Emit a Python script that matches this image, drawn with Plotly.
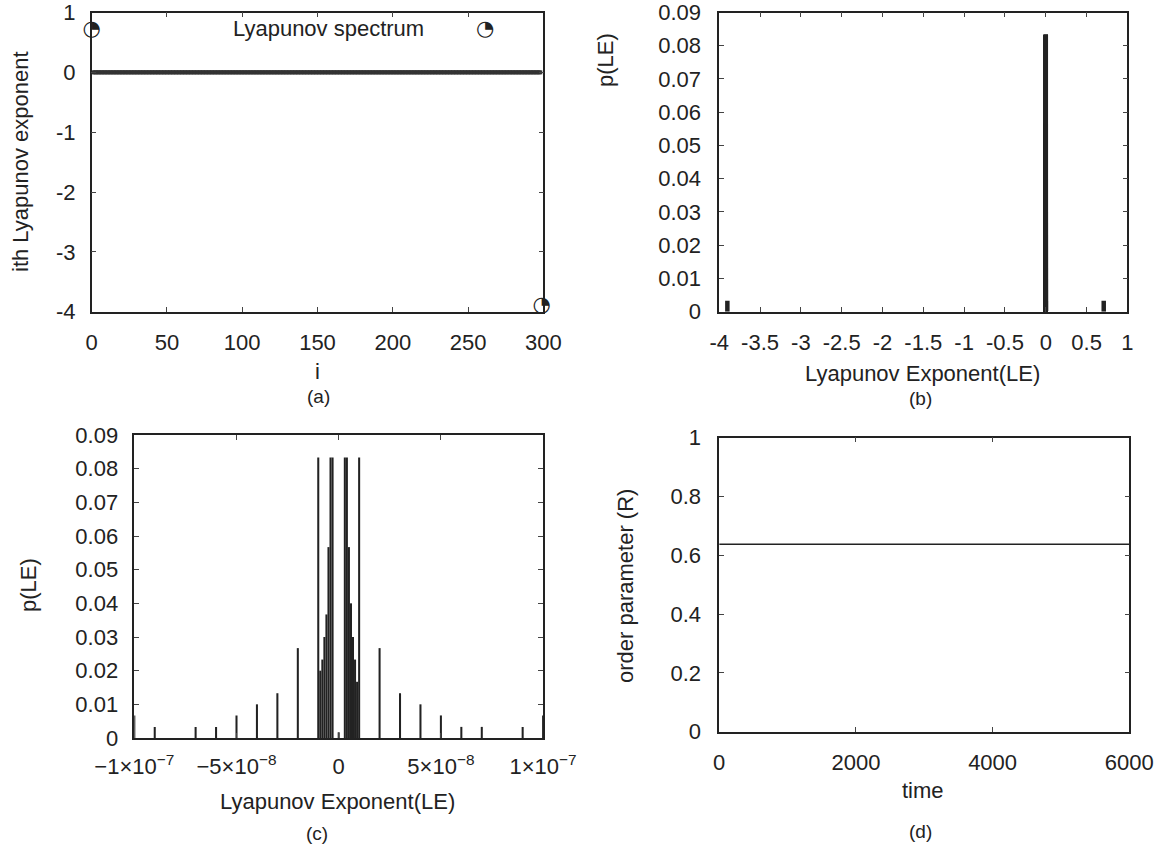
import plotly.graph_objects as go

# ---------------- data ----------------
# (a) Lyapunov spectrum, i = 0..299
spec_i = list(range(300))
spec_val = [0.71] + [0.0] * 298 + [-3.90]

# (c) histogram of the near-zero exponents (bin centre, probability)
c_le = [-1.0e-7, -9e-8, -7e-8, -6e-8, -5e-8, -4e-8, -3e-8, -2e-8,
        -1.0e-8, -9e-9, -8e-9, -7e-9, -6e-9, -5e-9, -4e-9, -3e-9,
        0.0,
        3e-9, 4e-9, 5e-9, 6e-9, 7e-9, 8e-9, 9e-9, 1.0e-8,
        2e-8, 3e-8, 4e-8, 5e-8, 6e-8, 7e-8, 9e-8, 1.0e-7]
c_p = [0.0067, 0.0033, 0.0033, 0.0033, 0.0067, 0.0100, 0.0133, 0.0267,
       0.0833, 0.0200, 0.0233, 0.0300, 0.0367, 0.0567, 0.0833, 0.0833,
       0.0017,
       0.0833, 0.0833, 0.0567, 0.0400, 0.0300, 0.0233, 0.0167, 0.0833,
       0.0267, 0.0133, 0.0100, 0.0067, 0.0033, 0.0033, 0.0033, 0.0067]

# (b) full histogram: outlying exponents plus the near-zero bins
b_out_le = [-3.90, 0.71]
b_out_p = [0.0033, 0.0033]

# (d) order parameter versus time
d_time = [0, 1000, 2000, 3000, 4000, 5000, 6000]
d_R = [0.638, 0.638, 0.638, 0.638, 0.638, 0.638, 0.638]

a_xticks = [0, 50, 100, 150, 200, 250, 300]
a_yticks = [-4, -3, -2, -1, 0, 1]
a_ytext = ["-4", "-3", "-2", "-1", "0", "1"]
b_xticks = [-4, -3.5, -3, -2.5, -2, -1.5, -1, -0.5, 0, 0.5, 1]
b_xtext = ["-4", "-3.5", "-3", "-2.5", "-2", "-1.5", "-1", "-0.5", "0", "0.5", "1"]
p_ticks = [0, 0.01, 0.02, 0.03, 0.04, 0.05, 0.06, 0.07, 0.08, 0.09]
p_text = ["0", "0.01", "0.02", "0.03", "0.04", "0.05", "0.06", "0.07", "0.08", "0.09"]
c_xticks = [-1e-7, -5e-8, 0, 5e-8, 1e-7]
c_xtext = ["\u22121\u00d710<sup>\u22127</sup>", "\u22125\u00d710<sup>\u22128</sup>", "0",
           "5\u00d710<sup>\u22128</sup>", "1\u00d710<sup>\u22127</sup>"]
d_xticks = [0, 2000, 4000, 6000]
d_yticks = [0, 0.2, 0.4, 0.6, 0.8, 1]
d_ytext = ["0", "0.2", "0.4", "0.6", "0.8", "1"]

INK = "#222222"
FONT = "Liberation Sans"
W, H = 1170, 847

fig = go.Figure()

# (a)
zero_i = [i for i, v in zip(spec_i, spec_val) if abs(v) < 0.1]
zero_v = [v for v in spec_val if abs(v) < 0.1]
out_i = [i for i, v in zip(spec_i, spec_val) if abs(v) >= 0.1]
out_v = [v for v in spec_val if abs(v) >= 0.1]
fig.add_trace(go.Scatter(x=zero_i, y=zero_v, mode="markers",
                         marker=dict(symbol="square", size=4, color="#333333", line=dict(width=0)),
                         xaxis="x", yaxis="y", showlegend=False, cliponaxis=False))
fig.add_trace(go.Scatter(x=out_i, y=out_v, mode="text", text=["\u25d4"] * len(out_i),
                         textposition="middle center",
                         textfont=dict(family="DejaVu Sans", size=21, color=INK),
                         xaxis="x", yaxis="y", showlegend=False, cliponaxis=False))

# (b)
fig.add_trace(go.Bar(x=c_le + b_out_le, y=c_p + b_out_p, width=0.055,
                     marker=dict(color=INK, line=dict(width=0)),
                     xaxis="x2", yaxis="y2", showlegend=False))
# (c)
fig.add_trace(go.Bar(x=c_le, y=c_p, width=1.0e-9,
                     marker=dict(color=INK, line=dict(width=0)),
                     xaxis="x3", yaxis="y3", showlegend=False))
# (d)
fig.add_trace(go.Scatter(x=d_time, y=d_R, mode="lines", line=dict(color=INK, width=1.5),
                         xaxis="x4", yaxis="y4", showlegend=False))


def ax(**kw):
    base = dict(showline=True, linecolor=INK, linewidth=1.5, mirror="ticks",
                ticks="inside", ticklen=5, tickwidth=1, tickcolor="#444444",
                showgrid=False, zeroline=False, tickmode="array", automargin=False,
                ticklabeloverflow="allow",
                tickfont=dict(family=FONT, size=22, color=INK))
    base.update(kw)
    return base


def fx(px):
    return px / W


def fy(py):
    return 1 - py / H


TOP = 12.5

fig.update_layout(
    width=W, height=H, margin=dict(l=0, r=0, t=0, b=0, autoexpand=False),
    paper_bgcolor="white", plot_bgcolor="white", barmode="overlay",
    xaxis=ax(domain=[fx(91.7), fx(543.3)], anchor="y", range=[0, 300], tickvals=a_xticks,
             ticklabelstandoff=10),
    yaxis=ax(domain=[fy(311.7), fy(TOP)], anchor="x", range=[-4, 1], tickvals=a_yticks,
             ticktext=a_ytext, ticklabelstandoff=10),
    xaxis2=ax(domain=[fx(719.2), fx(1127.4)], anchor="y2", range=[-4, 1], tickvals=b_xticks,
              ticktext=b_xtext, ticklabelstandoff=10),
    yaxis2=ax(domain=[fy(311.7), fy(TOP)], anchor="x2", range=[0, 0.09], tickvals=p_ticks,
              ticktext=p_text, ticklabelstandoff=12),
    xaxis3=ax(domain=[fx(134.3), fx(543.1)], anchor="y3", range=[-1e-7, 1e-7], tickvals=c_xticks,
              ticktext=c_xtext, ticklabelstandoff=8),
    yaxis3=ax(domain=[fy(738), fy(435)], anchor="x3", range=[0, 0.09], tickvals=p_ticks,
              ticktext=p_text, ticklabelstandoff=10),
    xaxis4=ax(domain=[fx(719.2), fx(1129.3)], anchor="y4", range=[0, 6000], tickvals=d_xticks,
              ticklabelstandoff=10),
    yaxis4=ax(domain=[fy(731.7), fy(437.7)], anchor="x4", range=[0, 1], tickvals=d_yticks,
              ticktext=d_ytext, ticklabelstandoff=12),
)


def label(text, px, py, size=22, angle=0, font=FONT):
    fig.add_annotation(text=text, x=fx(px), y=fy(py), xref="paper", yref="paper",
                       showarrow=False, textangle=angle, xanchor="center", yanchor="middle",
                       font=dict(family=font, size=size, color=INK))


label("i", 317, 372)
label("(a)", 318, 396.5, size=19)
label("ith Lyapunov exponent", 20, 162, angle=-90)
label("Lyapunov spectrum", 328, 28)
label("\u25d4", 485, 28, size=21, font="DejaVu Sans")

label("Lyapunov Exponent(LE)", 922, 373)
label("(b)", 920.5, 398, size=19)
label("p(LE)", 605, 60, angle=-90)

label("Lyapunov Exponent(LE)", 337, 801.7)
label("(c)", 317, 833, size=19)
label("p(LE)", 28, 585, angle=-90)

label("time", 923, 790)
label("(d)", 920.5, 831.7, size=19)
label("order parameter (R)", 625, 586, angle=-90)

fig.write_html("out.html")
